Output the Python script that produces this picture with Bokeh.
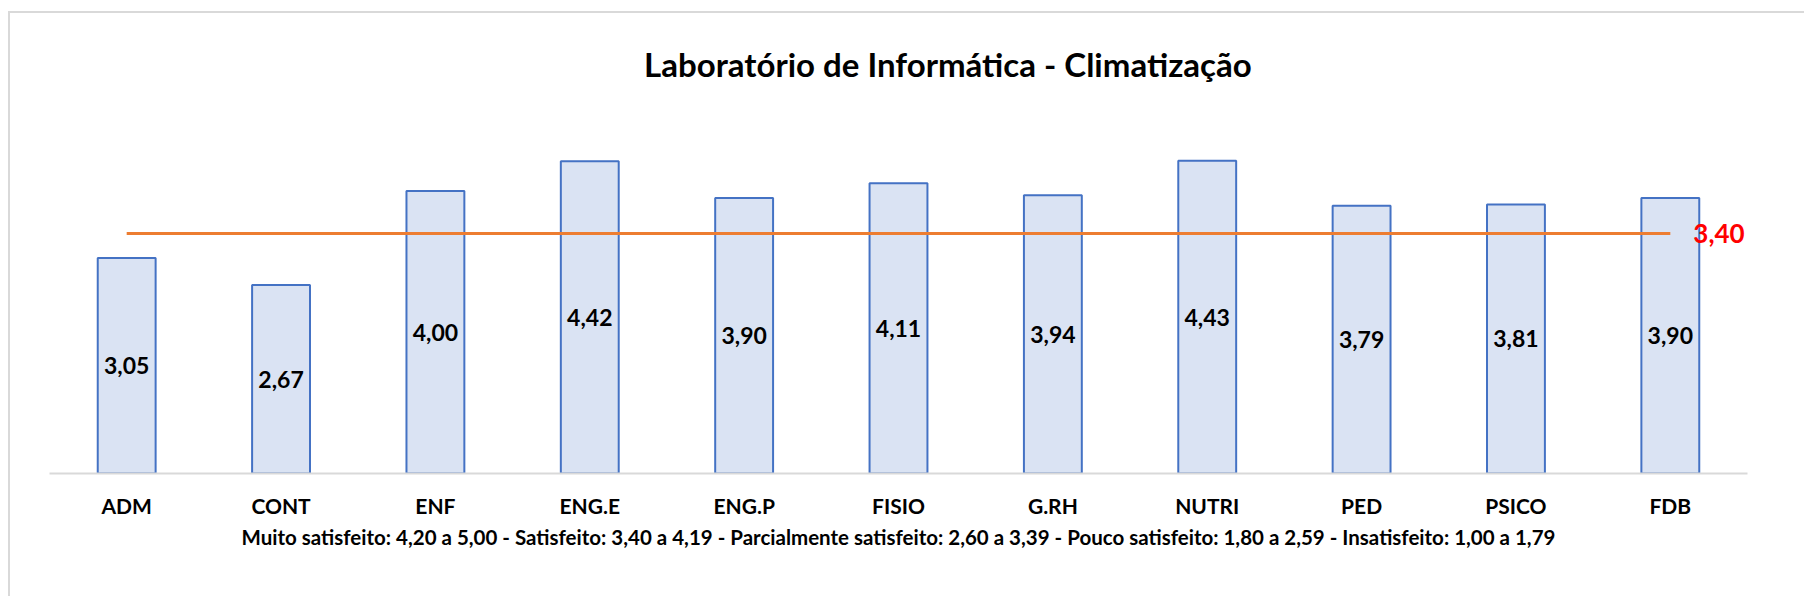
from bokeh.plotting import figure
from bokeh.models import Range1d, Label, FactorRange, ColumnDataSource
from bokeh.embed import file_html
from bokeh.resources import INLINE
from bokeh.core.properties import value

categories = ["ADM", "CONT", "ENF", "ENG.E", "ENG.P", "FISIO", "G.RH", "NUTRI", "PED", "PSICO", "FDB"]
scores = [3.05, 2.67, 4.00, 4.42, 3.90, 4.11, 3.94, 4.43, 3.79, 3.81, 3.90]
reference = 3.40
title_text = "Laboratório de Informática - Climatização"
footnote_text = ("Muito satisfeito: 4,20 a 5,00 - Satisfeito: 3,40 a 4,19 - "
                 "Parcialmente satisfeito: 2,60 a 3,39 - Pouco satisfeito: 1,80 a 2,59 - "
                 "Insatisfeito: 1,00 a 1,79")


def fmt(v):
    return f"{v:.2f}".replace(".", ",")


FONT = "Lato"

src = ColumnDataSource(dict(
    cat=categories,
    score=scores,
    mid=[s / 2 for s in scores],
    lbl=[fmt(s) for s in scores],
    ref=[reference] * len(categories),
))

p = figure(
    x_range=FactorRange(*categories, range_padding=0),
    y_range=Range1d(0, 6.4),
    width=1796, height=585,
    output_backend="svg", toolbar_location=None,
    min_border_left=39, min_border_right=59,
    min_border_top=8, min_border_bottom=125,
)
p.styles = {"margin-left": "8px", "margin-top": "11px",
            "border-top": "2px solid #d9d9d9",
            "border-left": "2px solid #d9d9d9"}
p.outline_line_color = None
p.background_fill_color = "white"
p.border_fill_color = "white"
p.xgrid.visible = False
p.ygrid.visible = False
p.yaxis.visible = False

ax = p.xaxis[0]
ax.axis_line_color = "#d9d9d9"
ax.axis_line_width = 2
ax.major_tick_line_color = None
ax.minor_tick_line_color = None
ax.major_label_text_font = FONT
ax.major_label_text_font_style = "bold"
ax.major_label_text_font_size = "21px"
ax.major_label_text_color = "black"
ax.major_label_standoff = 13
ax.axis_label = footnote_text
ax.axis_label_text_font = FONT
ax.axis_label_text_font_style = "bold"
ax.axis_label_text_font_size = "20.5px"
ax.axis_label_text_color = "black"
ax.axis_label_standoff = 4

p.vbar(x="cat", top="score", width=0.375, source=src,
       fill_color="#dae3f3", line_color="#4472c4", line_width=2)

p.line(x="cat", y="ref", source=src, line_color="#ed7d31", line_width=3)

p.text(x="cat", y="mid", text="lbl", source=src,
       text_font=value(FONT), text_font_style="bold", text_font_size="23px",
       text_color="black", text_align="center", text_baseline="middle")

p.text(x=[categories[-1]], y=[reference], text=[fmt(reference)],
       x_offset=23, text_font=value(FONT), text_font_style="bold",
       text_font_size="26px", text_color="#ff0000",
       text_align="left", text_baseline="middle")

p.add_layout(Label(x=5.82, y=5.8, text=title_text, text_font=FONT,
                   text_font_style="bold", text_font_size="33px",
                   text_color="black", text_align="center", text_baseline="middle"))

open("out.html", "w").write(file_html(p, INLINE))
